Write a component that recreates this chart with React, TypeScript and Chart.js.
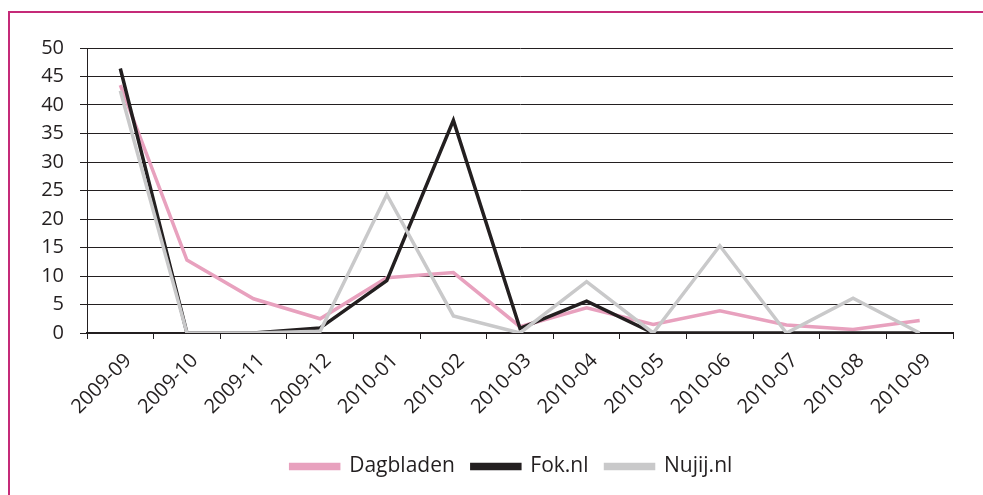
import React, { useEffect, useRef } from "react";
import { Chart, registerables } from "chart.js";

Chart.register(...registerables);

const categories = [
  "2009-09", "2009-10", "2009-11", "2009-12", "2010-01", "2010-02", "2010-03",
  "2010-04", "2010-05", "2010-06", "2010-07", "2010-08", "2010-09",
];
const dagbladen = [43.5, 12.8, 6.0, 2.5, 9.7, 10.6, 1.1, 4.4, 1.5, 3.9, 1.4, 0.6, 2.2];
const fokNl = [46.4, 0, 0, 0.9, 9.2, 37.3, 0.8, 5.6, 0, 0, 0, 0, 0];
const nujijNl = [42.5, 0, 0, 0.3, 24.3, 3.0, 0, 9.0, 0, 15.3, 0, 6.1, 0];
const yTicks = [0, 5, 10, 15, 20, 25, 30, 35, 40, 45, 50];

const FONT = "'Open Sans', Lato, sans-serif";
const TEXT = "#231f20";

const framePlugin = {
  id: "frame",
  afterLayout(chart: any) {
    const lg = chart.legend;
    if (lg) {
      lg.left += 30;
      lg.right += 30;
    }
  },
  beforeDraw(chart: any) {
    const ctx = chart.ctx;
    ctx.save();
    ctx.fillStyle = "#ffffff";
    ctx.fillRect(0, 0, chart.width, chart.height);
    ctx.strokeStyle = "#c52a78";
    ctx.lineWidth = 2;
    ctx.beginPath();
    ctx.moveTo(8, 12);
    ctx.lineTo(chart.width, 12);
    ctx.moveTo(9, 12);
    ctx.lineTo(9, chart.height);
    ctx.stroke();
    ctx.restore();
  },
};

export default function App() {
  const ref = useRef<HTMLCanvasElement | null>(null);

  useEffect(() => {
    document.body.style.margin = "0";
    const canvas = ref.current;
    if (!canvas) return;
    const chart = new Chart(canvas, {
      type: "line",
      data: {
        labels: categories,
        datasets: [
          {
            label: "Dagbladen",
            data: dagbladen,
            borderColor: "#e8a1be",
            backgroundColor: "#e8a1be",
            borderWidth: 3.5,
            pointRadius: 0,
            tension: 0,
            order: 3,
          },
          {
            label: "Fok.nl",
            data: fokNl,
            borderColor: "#231f20",
            backgroundColor: "#231f20",
            borderWidth: 3.5,
            pointRadius: 0,
            tension: 0,
            order: 2,
          },
          {
            label: "Nujij.nl",
            data: nujijNl,
            borderColor: "#c9c9ca",
            backgroundColor: "#c9c9ca",
            borderWidth: 3.5,
            pointRadius: 0,
            tension: 0,
            order: 1,
          },
        ],
      },
      options: {
        responsive: false,
        animation: false,
        layout: { padding: { left: 10, right: 30, top: 48, bottom: 8 } },
        plugins: {
          tooltip: { enabled: false },
          legend: {
            position: "bottom",
            labels: {
              boxWidth: 48,
              boxHeight: 4,
              padding: 17,
              color: TEXT,
              font: { family: FONT, size: 21 },
              sort: (a: any, b: any) => a.datasetIndex - b.datasetIndex,
            },
          },
        },
        scales: {
          x: {
            offset: true,
            grid: {
              offset: true,
              drawOnChartArea: false,
              drawTicks: true,
              tickLength: 6,
              color: TEXT,
              lineWidth: 1,
            },
            border: { color: TEXT, width: 2 },
            ticks: {
              maxRotation: 45,
              minRotation: 45,
              autoSkip: false,
              padding: 10,
              labelOffset: 8,
              color: TEXT,
              font: { family: FONT, size: 20 },
            },
            afterFit(scale: any) {
              scale.height = 106;
            },
          },
          y: {
            min: 0,
            max: 50,
            afterBuildTicks(scale: any) {
              scale.ticks = yTicks.map((v) => ({ value: v }));
            },
            grid: {
              color: TEXT,
              lineWidth: 1,
              tickLength: 7,
            },
            border: { color: TEXT, width: 1 },
            ticks: {
              padding: 16,
              color: TEXT,
              font: { family: FONT, size: 20 },
            },
            afterFit(scale: any) {
              scale.width = 77;
            },
          },
        },
      },
      plugins: [framePlugin],
    });
    return () => chart.destroy();
  }, []);

  return (
    <div style={{ width: 983, height: 495 }}>
      <canvas ref={ref} width={983} height={495} style={{ width: 983, height: 495 }} />
    </div>
  );
}
